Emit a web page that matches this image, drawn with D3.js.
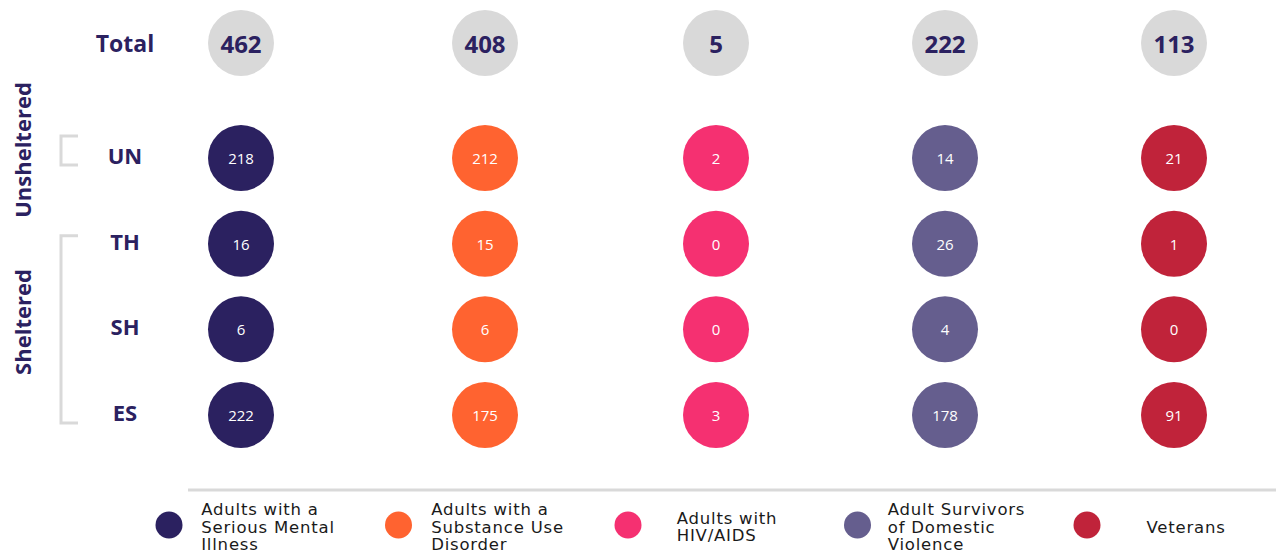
<!DOCTYPE html>
<html>
<head>
<meta charset="utf-8">
<script src="https://cdn.jsdelivr.net/npm/d3@7"></script>
<style>
  body { margin: 0; background: #fff; }
  svg { display: block; font-family: 'Open Sans', sans-serif; }
</style>
</head>
<body>
<div id="chart"></div>
<script>
const categories = ['Adults with a Serious Mental Illness', 'Adults with a Substance Use Disorder',
  'Adults with HIV/AIDS', 'Adult Survivors of Domestic Violence', 'Veterans'];
const legendLines = [
  ['Adults with a', 'Serious Mental', 'Illness'],
  ['Adults with a', 'Substance Use', 'Disorder'],
  ['Adults with', 'HIV/AIDS'],
  ['Adult Survivors', 'of Domestic', 'Violence'],
  ['Veterans']
];
const rows = ['UN', 'TH', 'SH', 'ES'];
const totals = [462, 408, 5, 222, 113];
// values[category][row]
const values = [
  [218, 16, 6, 222],
  [212, 15, 6, 175],
  [2, 0, 0, 3],
  [14, 26, 4, 178],
  [21, 1, 0, 91]
];
const colors = ['#2b2160', '#ff6330', '#f53071', '#655e8e', '#c0233a'];

const w = 1276, h = 558,
    r = 33,
    navy = '#2b2160',
    grey = '#d9d9d9';

const svg = d3.select('#chart').append('svg')
    .attr('width', w)
    .attr('height', h);

// column centres are not evenly spaced in the original
const x = d3.scaleOrdinal().domain(categories).range([241, 485, 716, 945, 1174]);
const y = d3.scalePoint().domain(rows).range([158, 415]);
const yTotal = 43;
const color = d3.scaleOrdinal().domain(categories).range(colors);

// Row labels
svg.append('text')
    .attr('x', 125).attr('y', yTotal)
    .attr('text-anchor', 'middle').attr('dominant-baseline', 'central')
    .attr('fill', navy).attr('font-weight', 700).attr('font-size', 23)
    .text('Total');

svg.selectAll('.row-label').data(rows).join('text')
    .attr('class', 'row-label')
    .attr('x', 125).attr('y', d => y(d) - 3)
    .attr('text-anchor', 'middle').attr('dominant-baseline', 'central')
    .attr('fill', navy).attr('font-weight', 700).attr('font-size', 22)
    .text(d => d);

// Group labels with brackets
const groups = [
  {name: 'Unsheltered', rows: ['UN'], top: 22, bottom: 7, mid: 150},
  {name: 'Sheltered', rows: ['TH', 'SH', 'ES'], top: 8, bottom: 8, mid: 322}
];
svg.selectAll('.bracket').data(groups).join('path')
    .attr('class', 'bracket')
    .attr('d', g => {
      const y0 = y(g.rows[0]) - g.top, y1 = y(g.rows[g.rows.length - 1]) + g.bottom;
      return 'M78,' + y0 + 'H61V' + y1 + 'H78';
    })
    .attr('fill', 'none').attr('stroke', grey).attr('stroke-width', 3);

svg.selectAll('.group-label').data(groups).join('text')
    .attr('class', 'group-label')
    .attr('transform', g => 'translate(22,' + g.mid + ') rotate(-90)')
    .attr('text-anchor', 'middle').attr('dominant-baseline', 'central')
    .attr('fill', navy).attr('font-weight', 700).attr('font-size', 22)
    .text(g => g.name);

// Total circles
const tot = svg.selectAll('.total').data(categories).join('g')
    .attr('class', 'total')
    .attr('transform', d => 'translate(' + x(d) + ',' + yTotal + ')');
tot.append('circle').attr('r', r).attr('fill', grey);
tot.append('text')
    .attr('text-anchor', 'middle').attr('dominant-baseline', 'central')
    .attr('fill', navy).attr('font-weight', 700).attr('font-size', 24)
    .text((d, i) => totals[i]);

// Value circles
const cells = [];
categories.forEach((c, i) => rows.forEach((rw, j) => cells.push({c, rw, v: values[i][j]})));
const cell = svg.selectAll('.cell').data(cells).join('g')
    .attr('class', 'cell')
    .attr('transform', d => 'translate(' + x(d.c) + ',' + y(d.rw) + ')');
cell.append('circle').attr('r', r).attr('fill', d => color(d.c));
cell.append('text')
    .attr('text-anchor', 'middle').attr('dominant-baseline', 'central')
    .attr('fill', '#fff').attr('font-size', 15)
    .text(d => d.v);

// Legend
const lx = d3.scalePoint().domain(categories).range([169, 1087]);
const ly = 525;
svg.append('line')
    .attr('x1', 188).attr('x2', w).attr('y1', 490).attr('y2', 490)
    .attr('stroke', grey).attr('stroke-width', 3);

const leg = svg.selectAll('.legend').data(categories).join('g')
    .attr('class', 'legend')
    .attr('transform', d => 'translate(' + lx(d) + ',' + ly + ')');
leg.append('circle').attr('r', 13.5).attr('fill', d => color(d));
leg.each(function(d, i) {
  const lines = legendLines[i];
  const t = d3.select(this).append('text')
      .style('font-family', "'DejaVu Sans', sans-serif")
      .style('font-size', '16.5px').style('letter-spacing', '0.8px')
      .attr('fill', '#1a1a1a');
  const lh = 17.5;
  t.selectAll('tspan').data(lines).join('tspan')
      .attr('x', 0)
      .attr('y', (l, k) => (k - (lines.length - 1) / 2) * lh + 2)
      .attr('dominant-baseline', 'central')
      .text(l => l);
  const bw = t.node().getBBox().width;
  t.selectAll('tspan').attr('x', 99 - bw / 2);
});
</script>
</body>
</html>
